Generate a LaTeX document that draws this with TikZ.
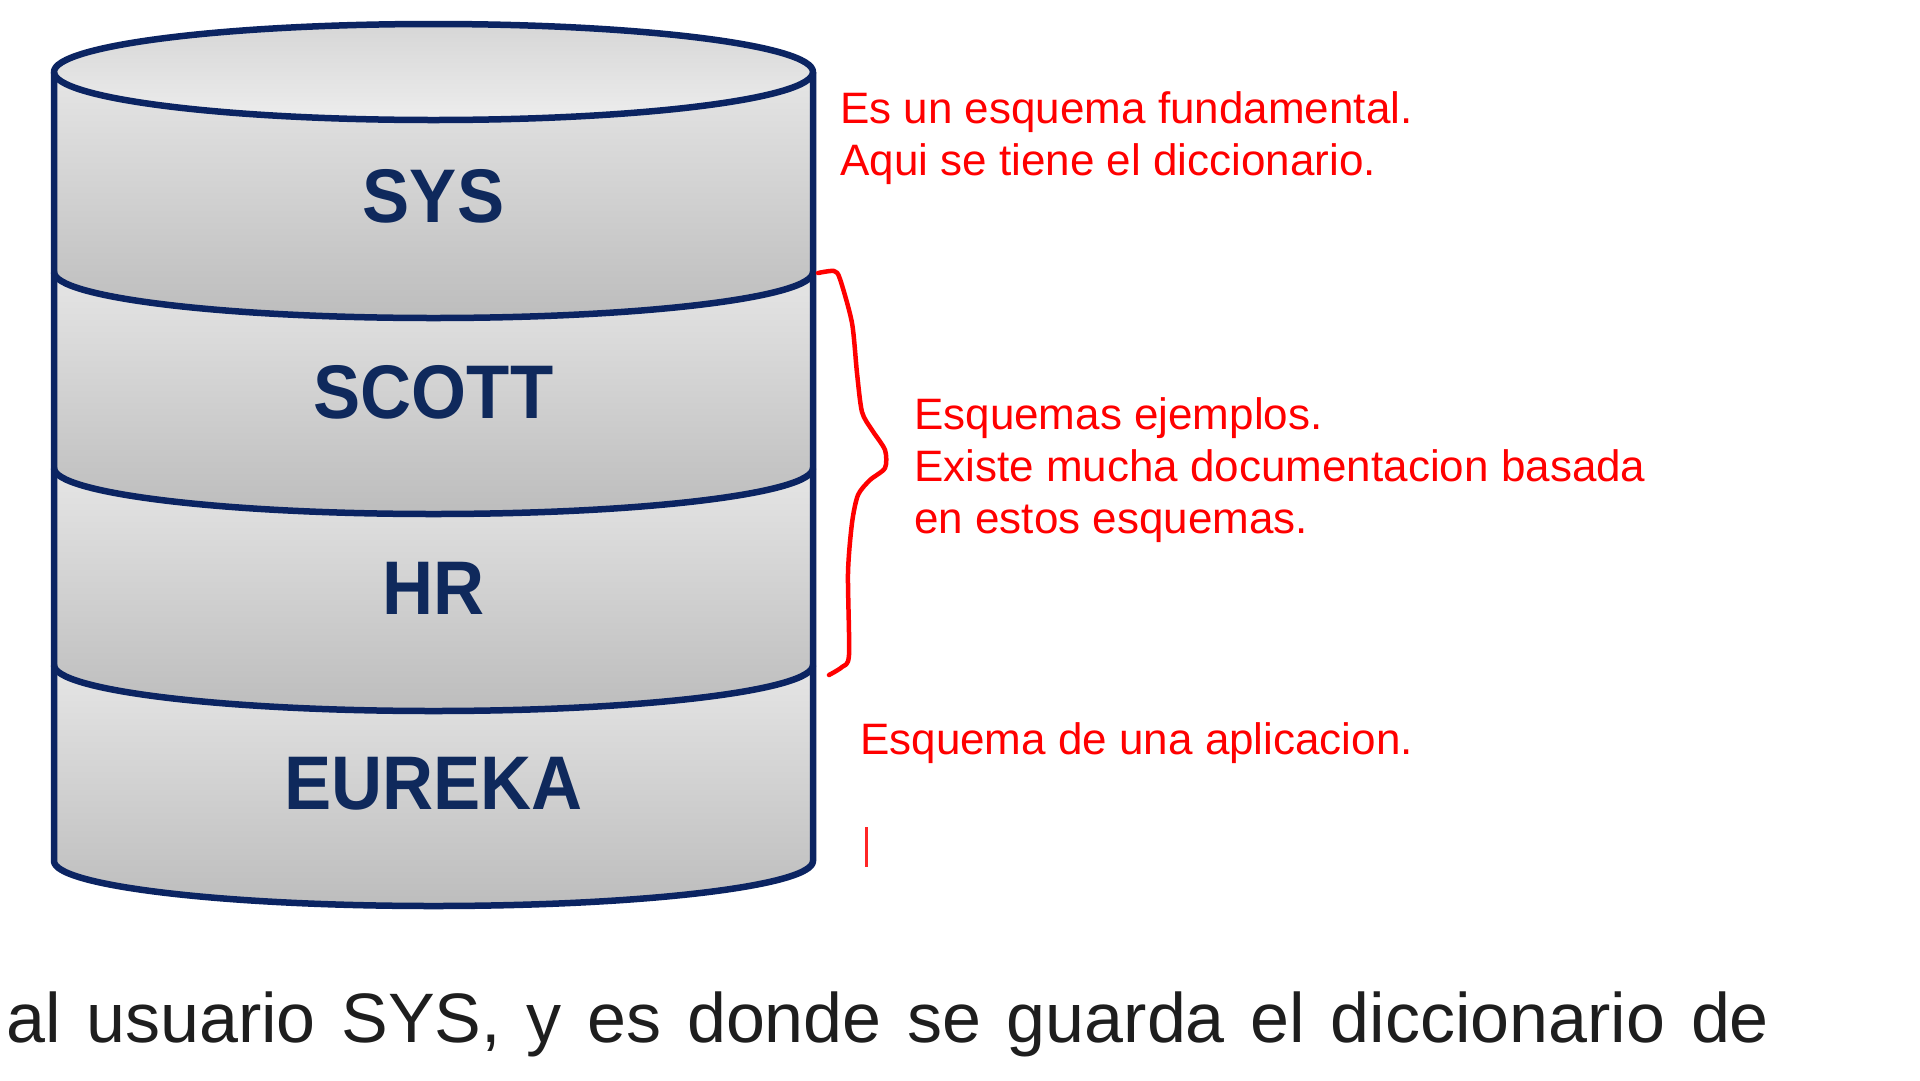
\documentclass[tikz,border=0pt]{standalone}
\usepackage{fontspec}
\setmainfont{Liberation Sans}
\definecolor{navy}{HTML}{0B2462}
\definecolor{labelblue}{HTML}{0F295C}
\definecolor{notered}{HTML}{FF0000}
\definecolor{bodytext}{HTML}{1E1E1E}
\tikzset{
  outline/.style={draw=navy, line width=6.5pt, line join=round},
  band/.style={top color=black!10, bottom color=black!26},
  schema/.style={text=labelblue, inner sep=0pt, font=\bfseries\fontsize{76}{80}\selectfont},
  note/.style={text=notered, inner sep=0pt, anchor=base west, font=\fontsize{44}{52}\selectfont},
  body/.style={text=bodytext, inner sep=0pt, anchor=base west, font=\fontsize{70}{80}\selectfont},
  bracestroke/.style={draw=notered, line width=4.5pt, line cap=round, line join=round}
}
\begin{document}
\begin{tikzpicture}[x=1pt,y=-1pt]
\useasboundingbox[fill=white] (0,0) rectangle (1920,1080);
% bands
\foreach \t/\b/\r in {72/272/46, 272/468/46, 468/665/46, 665/861/45}{
  \path[band] (54,\t) .. controls (54,{\t+0.5523*46}) and (223.9,{\t+46}) .. (433.5,{\t+46})
     .. controls (643.1,{\t+46}) and (813,{\t+0.5523*46}) .. (813,\t)
     -- (813,\b) .. controls (813,{\b+0.5523*\r}) and (643.1,{\b+\r}) .. (433.5,{\b+\r})
     .. controls (223.9,{\b+\r}) and (54,{\b+0.5523*\r}) .. (54,\b) -- cycle;
}
% top ellipse fill
\path[top color=black!16, bottom color=black!7] (433.5,72) ellipse [x radius=379.5, y radius=48];
% outer outline
\draw[outline] (54,72) -- (54,861) .. controls (54,{861+0.5523*45}) and (223.9,906) .. (433.5,906)
   .. controls (643.1,906) and (813,{861+0.5523*45}) .. (813,861) -- (813,72);
% dividers
\foreach \t in {272,468,665}{
  \draw[outline] (54,\t) .. controls (54,{\t+0.5523*46}) and (223.9,{\t+46}) .. (433.5,{\t+46})
     .. controls (643.1,{\t+46}) and (813,{\t+0.5523*46}) .. (813,\t);
}
% top ellipse outline
\draw[outline] (433.5,72) ellipse [x radius=379.5, y radius=48];
% labels
\node[schema] (sys) at (433.5,196) {\scalebox{0.93}[1]{SYS}};
\node[schema] (scott) at (433.5,392) {\scalebox{0.93}[1]{SCOTT}};
\node[schema] (hr) at (433.5,588) {\scalebox{0.93}[1]{HR}};
\node[schema] (eureka) at (433.5,784) {\scalebox{0.93}[1]{EUREKA}};
% notes
\node[note] (n1a) at (840,123) {Es un esquema fundamental.};
\node[note] (n1b) at (840,175) {Aqui se tiene el diccionario.};
\node[note] (n2a) at (914,429) {Esquemas ejemplos.};
\node[note] (n2b) at (914,481) {Existe mucha documentacion basada};
\node[note] (n2c) at (914,533) {en estos esquemas.};
\node[note] (n3) at (860,754) {Esquema de una aplicacion.};
% brace
\draw[bracestroke] plot[smooth, tension=0.45] coordinates {(818,273) (834,271) (840,279) (852,323) (857,373) (862,412) (872,430) (885,450) (885,468) (870,480) (858,495) (852,523) (848,573) (849,655) (842,667) (829,675)};
% cursor
\draw[draw=notered!85!white, line width=3pt] (866,827) -- (866,867);
% body text
\node[body] (bodyline) at (6,1042) {\makebox[1763pt][s]{al usuario SYS, y es donde se guarda el diccionario de}};
\end{tikzpicture}
\end{document}
